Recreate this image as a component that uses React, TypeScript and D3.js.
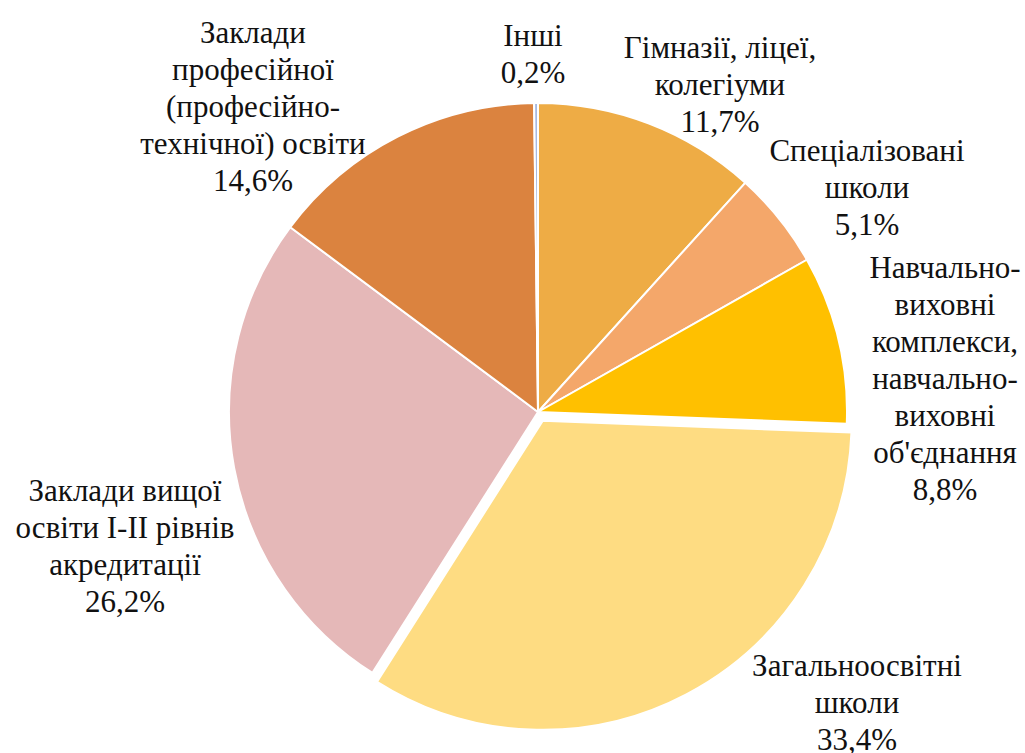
import * as d3 from 'd3';

// values in %, clockwise from 12 o'clock
const categories = [
  'Гімназії, ліцеї, колегіуми',
  'Спеціалізовані школи',
  'Навчально-виховні комплекси, навчально-виховні об\'єднання',
  'Загальноосвітні школи',
  'Заклади вищої освіти І-ІІ рівнів акредитації',
  'Заклади професійної (професійно-технічної) освіти',
  'Інші',
];
const shares = [11.7, 5.1, 8.8, 33.4, 26.2, 14.6, 0.2];
const valueLabels = ['11,7%', '5,1%', '8,8%', '33,4%', '26,2%', '14,6%', '0,2%'];
const labelLines = [
  ['Гімназії,  ліцеї,', 'колегіуми'],
  ['Спеціалізовані', 'школи'],
  ['Навчально-', 'виховні', 'комплекси,', 'навчально-', 'виховні', 'об\'єднання'],
  ['Загальноосвітні', 'школи'],
  ['Заклади вищої', 'освіти I-II рівнів', 'акредитації'],
  ['Заклади', 'професійної', '(професійно-', 'технічної) освіти'],
  ['Інші'],
];
const colors = ['#EEAC45', '#F4A76A', '#FFC000', '#FEDC82', '#E5B8B8', '#DB833F', '#A7B9E0'];

// layout (label block centres, exploded slice)
const labelPos: [number, number][] = [
  [720, 84], [867, 187], [945, 378], [857, 702], [125, 545], [253, 106], [533, 53],
];
const explode = [0, 0, 0, 10, 0, 0, 0];

const width = 1025;
const height = 753;
const cx = 538;
const cy = 412;
const radius = 309;
const lineH = 37;

const App = () => {
  const pie = d3.pie<number>().sort(null).value(d => d).startAngle(0).endAngle(2 * Math.PI);
  const arcs = pie(shares);
  const arc = d3.arc<d3.PieArcDatum<number>>().innerRadius(0).outerRadius(radius);

  return (
    <div style={{ position: 'absolute', left: 0, top: 0 }}>
      <svg width={width} height={height}>
        <g transform={`translate(${cx},${cy})`}>
          {arcs.map((d, i) => {
            const mid = (d.startAngle + d.endAngle) / 2;
            const off = explode[i];
            return (
              <path
                key={i}
                d={arc(d) || ''}
                transform={`translate(${off * Math.sin(mid)},${-off * Math.cos(mid)})`}
                fill={colors[i]}
                stroke="#fff"
                strokeWidth={2}
                strokeLinejoin="round"
              >
                <title>{categories[i]}</title>
              </path>
            );
          })}
        </g>
        {/* data labels */}
        <g fontFamily="Liberation Serif" fontSize={31} fill="#111">
          {labelLines.map((lines, i) => {
            const all = [...lines, valueLabels[i]];
            const [lx, ly] = labelPos[i];
            const top = ly - ((all.length - 1) * lineH) / 2;
            return (
              <text key={i} textAnchor="middle" dominantBaseline="central">
                {all.map((s, k) => (
                  <tspan key={k} x={lx} y={top + k * lineH}>{s}</tspan>
                ))}
              </text>
            );
          })}
        </g>
      </svg>
    </div>
  );
};

export default App;
